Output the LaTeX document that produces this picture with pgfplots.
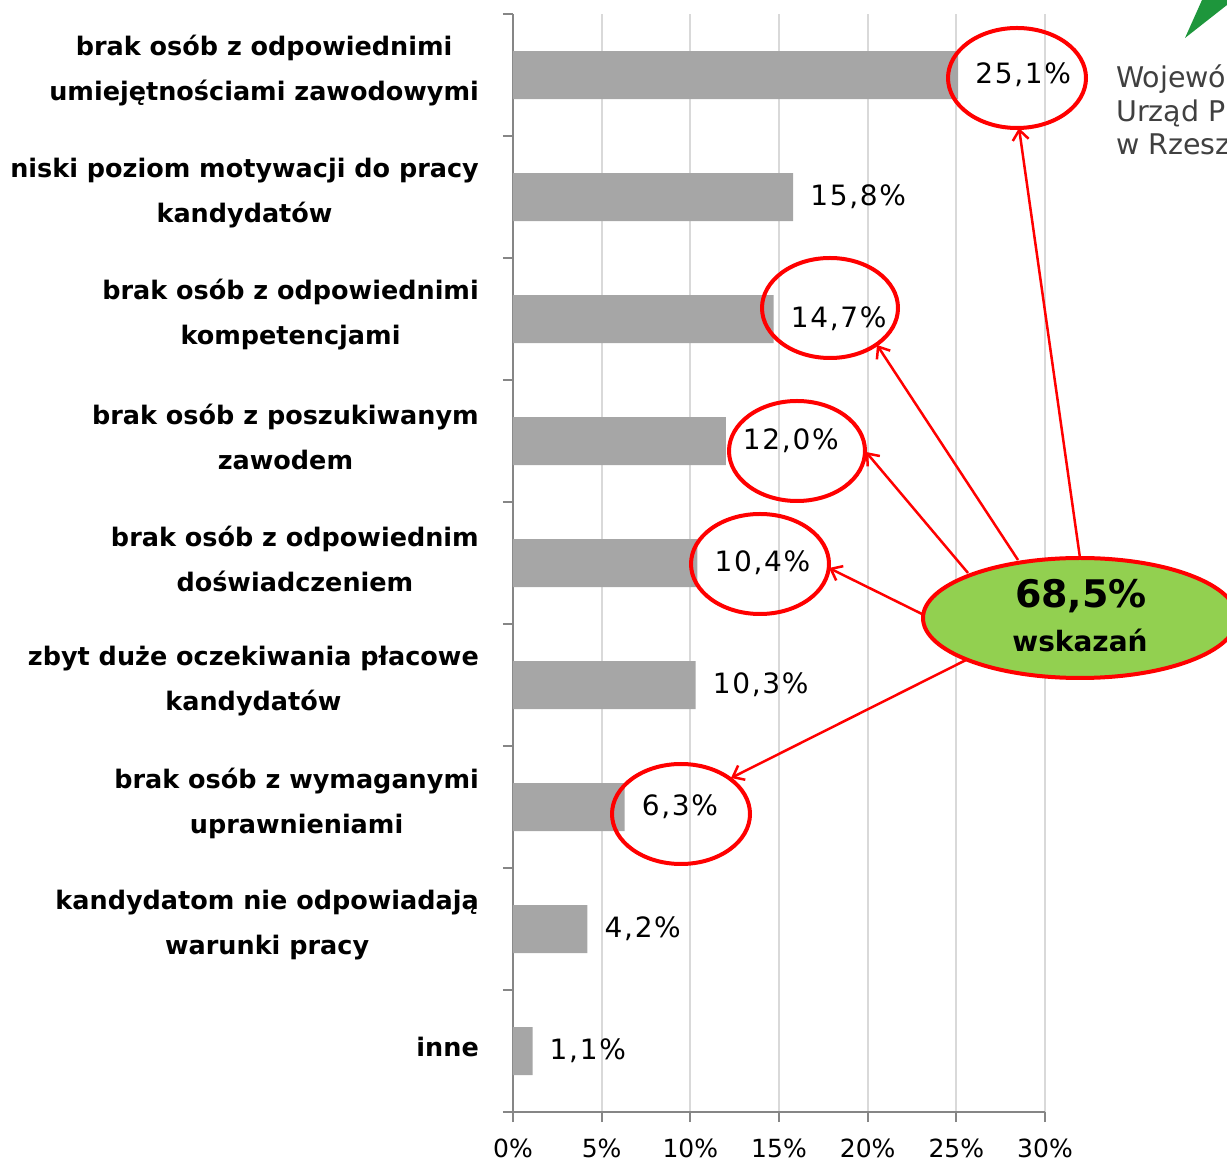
\documentclass[border=0pt]{standalone}
\usepackage{pgfplots}
\pgfplotsset{compat=1.18}
\usepackage{fontspec}
\setmainfont{DejaVu Sans}
\newfontfamily\labfont{DejaVu Sans Bold}
\newfontfamily\numfont[LetterSpace=6]{DejaVu Sans}
\usetikzlibrary{arrows.meta}
\definecolor{barg}{RGB}{166,166,166}
\definecolor{gridg}{RGB}{217,217,217}
\definecolor{axg}{RGB}{134,134,134}
\definecolor{annred}{RGB}{255,0,0}
\definecolor{bubble}{RGB}{146,208,80}
\definecolor{logog}{RGB}{30,150,60}
\definecolor{logot}{RGB}{64,64,64}
\begin{document}
\begin{tikzpicture}
\path[use as bounding box] (0,0) rectangle (1227pt,1163pt);
\clip (0,0) rectangle (1227pt,1163pt);
\begin{axis}[
  at={(513pt,51pt)}, anchor=south west,
  scale only axis, width=532pt, height=1098pt,
  xmin=0, xmax=30, ymin=-0.5, ymax=8.5,
  axis x line*=bottom, axis y line*=left,
  axis line style={-, color=axg, line width=2pt},
  xtick={0,5,...,30},
  xticklabels={0\%,5\%,10\%,15\%,20\%,25\%,30\%},
  xticklabel style={font=\fontsize{25}{25}\selectfont, yshift=-13pt},
  ytick={-0.5,0.5,...,8.5}, yticklabels={},
  extra y ticks={0,1,...,8},
  extra y tick labels={
    {inne},
    {kandydatom nie odpowiadają\\warunki pracy},
    {brak osób z wymaganymi\\uprawnieniami},
    {zbyt duże oczekiwania płacowe\\kandydatów},
    {brak osób z odpowiednim\\doświadczeniem},
    {brak osób z poszukiwanym\\zawodem},
    {brak osób z odpowiednimi\\kompetencjami},
    {niski poziom motywacji do pracy\\kandydatów},
    {brak osób z odpowiednimi\\umiejętnościami zawodowymi}},
  extra y tick style={major tick length=0pt,
    yticklabel style={align=center, inner sep=0pt, xshift=-34pt, yshift=4pt,
      font=\labfont\fontsize{25.5}{45}\selectfont}},
  tick align=outside, major tick length=10pt,
  tick style={color=axg, line width=2pt},
  xmajorgrids, grid style={color=gridg, line width=2pt},
  xbar, bar width=48pt,
  point meta=explicit symbolic,
  nodes near coords,
  every node near coord/.append style={anchor=west, inner sep=0pt, xshift=17pt,
    font=\numfont\fontsize{28}{28}\selectfont, black},
]
\addplot[fill=barg, draw=none] coordinates {
  (25.1,8) [25,1\%]
  (15.8,7) [15,8\%]
  (14.7,6) [14,7\%]
  (12.0,5) [12,0\%]
  (10.4,4) [10,4\%]
  (10.3,3) [10,3\%]
  (6.3,2) [6,3\%]
  (4.2,1) [4,2\%]
  (1.1,0) [1,1\%]
};
\end{axis}
% annotations
\begin{scope}[annred, line width=2.5pt, -{Straight Barb[length=10pt,width=16pt]}]
\draw (1080pt,605pt) -- (1019pt,1035pt);
\draw (1018pt,603pt) -- (877pt,818pt);
\draw (968pt,590pt) -- (866pt,711pt);
\draw (922pt,549pt) -- (829pt,595pt);
\draw (966pt,503pt) -- (731pt,385pt);
\end{scope}
\begin{scope}[annred, line width=4pt]
\draw (1017pt,1085pt) ellipse [x radius=69pt, y radius=50pt];
\draw (830pt,855pt) ellipse [x radius=68pt, y radius=50pt];
\draw (797pt,712pt) ellipse [x radius=68pt, y radius=50pt];
\draw (760pt,599pt) ellipse [x radius=69pt, y radius=50pt];
\draw (681pt,349pt) ellipse [x radius=69pt, y radius=50pt];
\end{scope}
\draw[annred, line width=4pt, fill=bubble] (1080pt,545pt) ellipse [x radius=157pt, y radius=60pt];
\node[font=\labfont\fontsize{38}{38}\selectfont] at (1081pt,567pt) {68,5\%};
\node[font=\labfont\fontsize{28}{28}\selectfont] at (1080pt,523pt) {wskazań};
% logo
\fill[logog] (1185pt,1125pt) -- (1202pt,1163pt) -- (1227pt,1163pt) -- (1227pt,1158pt) -- cycle;
\node[anchor=north west, align=left, inner sep=0pt, text=logot,
  font=\fontsize{28.5}{33.5}\selectfont] at (1116pt,1098pt)
  {Wojewó\\Urząd Pr\\w Rzesz};
\end{tikzpicture}
\end{document}
